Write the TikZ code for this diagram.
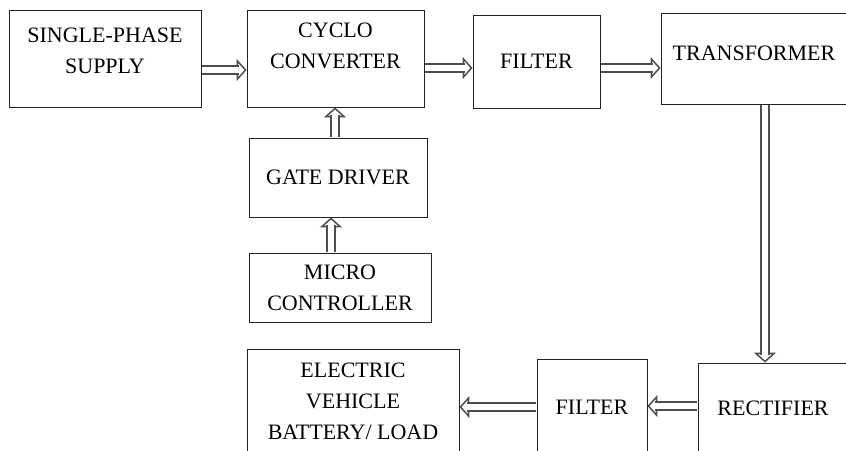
\documentclass[tikz,border=0pt]{standalone}
\usepackage{fontspec}
\setmainfont{Liberation Serif}
\usetikzlibrary{arrows.meta, calc}
\definecolor{edge}{HTML}{222222}
\definecolor{pipe}{HTML}{4D4D4D}
\begin{document}
\begin{tikzpicture}[x=1pt, y=-1pt,
    block/.style={draw=edge, line width=0.9pt, align=center, inner sep=0pt,
      font=\fontsize{22}{31}\selectfont},
    flow/.style={draw=pipe, double=white, double distance=6pt, line width=1.8pt,
      shorten <=0.4pt, shorten >=8pt},
    head/.style={draw=pipe, line width=1.5pt, -{Triangle[open, fill=white, length=10pt, width=22pt]}}]
    \useasboundingbox (0,0) rectangle (846,450);
    \clip (0,0) rectangle (846,450);
    % top row
    \node[block, minimum width=192pt, minimum height=97pt, text depth=15pt] (supply) at (105,58.5) {SINGLE-PHASE\\SUPPLY};
    \node[block, minimum width=177pt, minimum height=97pt, text depth=25pt] (cyclo) at (335.5,58.5) {CYCLO\\CONVERTER};
    \node[block, minimum width=127pt, minimum height=93pt] (filtertop) at (536.5,61.5) {FILTER};
    \node[block, minimum width=186pt, minimum height=91pt, text depth=11pt] (trafo) at (754,58.5) {TRANSFORMER};
    % control chain
    \node[block, minimum width=178pt, minimum height=79pt] (gate) at (338,177.5) {GATE DRIVER};
    \node[block, minimum width=182pt, minimum height=69pt] (micro) at (340,287.5) {MICRO\\CONTROLLER};
    % bottom row
    \node[block, minimum width=212pt, minimum height=104pt] (load) at (353,401) {ELECTRIC\\VEHICLE\\BATTERY/ LOAD};
    \node[block, minimum width=110pt, minimum height=96pt] (filterbot) at (592,407) {FILTER};
    \node[block, minimum width=150pt, minimum height=90pt] (rect) at (773,408) {RECTIFIER};
    % arrow ends
    \coordinate (supply-out) at ($(supply.east)+(0,11.5)$);
    \coordinate (cyclo-in) at ($(cyclo.west)+(0,11.5)$);
    \coordinate (cyclo-out) at ($(cyclo.east)+(0,9.5)$);
    \coordinate (filtertop-in) at ($(filtertop.west)+(0,6.5)$);
    \coordinate (filtertop-out) at ($(filtertop.east)+(0,6.5)$);
    \coordinate (trafo-in) at ($(trafo.west)+(0,9.5)$);
    \coordinate (gate-out) at ($(gate.north)+(-3,0)$);
    \coordinate (cyclo-gate) at ($(cyclo.south)+(-0.5,0)$);
    \coordinate (micro-out) at ($(micro.north)+(-9,0)$);
    \coordinate (gate-in) at ($(gate.south)+(-7,0)$);
    \coordinate (trafo-out) at ($(trafo.south)+(11,0)$);
    \coordinate (rect-in) at ($(rect.north)+(-8,0)$);
    \coordinate (rect-out) at ($(rect.west)+(0,-2)$);
    \coordinate (filterbot-in) at ($(filterbot.east)+(0,-1)$);
    \coordinate (filterbot-out) at (filterbot.west);
    \coordinate (load-in) at ($(load.east)+(0,6)$);
    \foreach \a/\b in {supply-out/cyclo-in, cyclo-out/filtertop-in, filtertop-out/trafo-in,
        gate-out/cyclo-gate, micro-out/gate-in, trafo-out/rect-in,
        rect-out/filterbot-in, filterbot-out/load-in} {
      \draw[head] ($(\b)!10pt!(\a)$) -- (\b);
      \draw[flow] (\a) -- (\b);
    }
  \end{tikzpicture}
\end{document}
